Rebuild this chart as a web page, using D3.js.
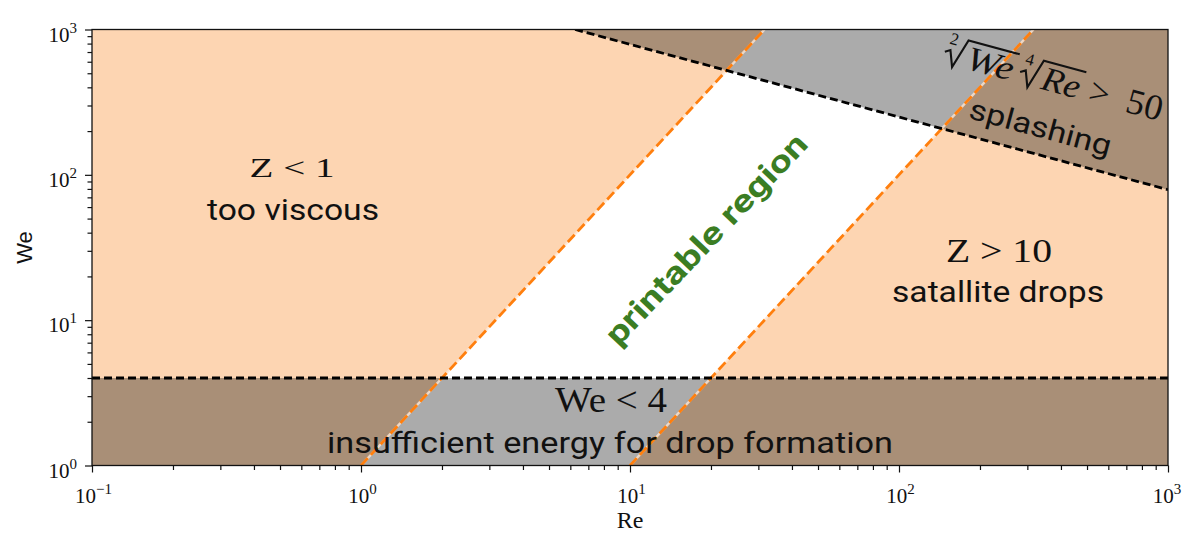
<!DOCTYPE html>
<html><head><meta charset="utf-8">
<script src="https://cdn.jsdelivr.net/npm/d3@7"></script>
<style>body{margin:0;background:#fff}svg{display:block}</style>
</head><body>
<svg id="c" width="1184" height="534"></svg>
<script>
// ---- data ----
const reDomain = [0.1, 1000];
const weDomain = [1, 1000];
const xTickExps = [-1, 0, 1, 2, 3];
const yTickExps = [0, 1, 2, 3];
// boundary lines (Re, We endpoints)
const z1Re = [1, 31.62];      // Z = 1
const z1We = [1, 1000];
const z10Re = [10, 316.2];    // Z = 10
const z10We = [1, 1000];
const splashRe = [6.25, 1000]; // sqrt(We)*Re^(1/4) = 50
const splashWe = [1000, 79];
const weMin = 4;               // We = 4

const peach = "#fdd5b2", shade = "#000", shadeOp = 0.33;
const orange = "#ff7f0e", green = "#3b7d23";

const svg = d3.select("#c");
const L = 92, R = 1168, T = 29.5, B = 465.5;
const x = d3.scaleLog().domain(reDomain).range([L, R]);
const y = d3.scaleLog().domain(weDomain).range([B, T]);
const line = d3.line().x(d => x(d[0])).y(d => y(d[1]));
const poly = pts => line(pts) + "Z";

svg.append("clipPath").attr("id", "clip").append("rect")
  .attr("x", L).attr("y", T).attr("width", R - L).attr("height", B - T);
const g = svg.append("g").attr("clip-path", "url(#clip)");

const [x0, x1] = reDomain, [y0, y1] = weDomain;
// Z<1 region
g.append("path").attr("d", poly([[x0, y0], [z1Re[0], z1We[0]], [z1Re[1], z1We[1]], [x0, y1]])).attr("fill", peach);
// Z>10 region
g.append("path").attr("d", poly([[z10Re[0], z10We[0]], [x1, y0], [x1, y1], [z10Re[1], z10We[1]]])).attr("fill", peach);
// We<4 region
g.append("path").attr("d", poly([[x0, y0], [x1, y0], [x1, weMin], [x0, weMin]])).attr("fill", shade).attr("fill-opacity", shadeOp);
// splashing region
g.append("path").attr("d", poly([[splashRe[0], splashWe[0]], [splashRe[1], splashWe[1]], [x1, y1]])).attr("fill", shade).attr("fill-opacity", shadeOp);

// boundary lines
const oDash = "10,4.5";
[[z1Re, z1We], [z10Re, z10We]].forEach(([rr, ww]) => {
  const pts = [[rr[0], ww[0]], [rr[1], ww[1]]];
  g.append("path").attr("d", line(pts)).attr("stroke", "#ffe6d2").attr("stroke-width", 2.4).attr("fill", "none").attr("stroke-opacity", 0.8);
  g.append("path").attr("d", line(pts)).attr("stroke", orange).attr("stroke-width", 2.8).attr("fill", "none").attr("stroke-dasharray", oDash);
});
g.append("path").attr("d", line([[x0, weMin], [x1, weMin]])).attr("stroke", "#000").attr("stroke-width", 2.8).attr("fill", "none").attr("stroke-dasharray", "8,4");
g.append("path").attr("d", line([[splashRe[0], splashWe[0]], [splashRe[1], splashWe[1]]])).attr("stroke", "#000").attr("stroke-width", 2.8).attr("fill", "none").attr("stroke-dasharray", "8,4");

// ---- annotations ----
const SANS = "Roboto, 'Open Sans', sans-serif";
const SERIF = "'Liberation Serif', 'DejaVu Serif', serif";
function txt(s, cx, by, size, fam, len) {
  const t = svg.append("text").attr("x", cx).attr("y", by).attr("text-anchor", "middle")
    .attr("font-family", fam).attr("font-size", size).attr("fill", "#111").text(s);
  if (len) t.attr("textLength", len).attr("lengthAdjust", "spacingAndGlyphs");
  return t;
}
txt("Z < 1", 292, 177, 28, SERIF, 85);
txt("too viscous", 293, 220, 29, SANS, 172);
txt("Z > 10", 999, 262, 33, SERIF, 106);
txt("satallite drops", 998, 302, 29, SANS, 212);
txt("We < 4", 611, 412, 35, SERIF, 112);
txt("insufficient energy for drop formation", 610, 453, 29, SANS, 566);

svg.append("text").attr("transform", "translate(706,239) rotate(-46.5)")
  .attr("text-anchor", "middle").attr("dy", "0.35em")
  .attr("font-family", SANS).attr("font-weight", "bold").attr("font-size", 31)
  .attr("fill", green).attr("textLength", 278).attr("lengthAdjust", "spacingAndGlyphs")
  .text("printable region");

// splashing label (rotated parallel to the splash boundary)
const ang = Math.atan2(y(splashWe[1]) - y(splashWe[0]), x(splashRe[1]) - x(splashRe[0])) * 180 / Math.PI;
svg.append("text").attr("transform", `translate(1038,137) rotate(${ang})`)
  .attr("text-anchor", "middle").attr("font-family", SANS).attr("font-size", 29).attr("fill", "#111")
  .attr("textLength", 146).attr("lengthAdjust", "spacingAndGlyphs").text("splashing");

const fg = svg.append("g").attr("transform", `translate(941,62) rotate(${ang})`);
function radical(idx, body, sx, bw) {
  fg.append("text").attr("x", sx + 3).attr("y", -20).attr("font-family", SERIF).attr("font-size", 17).attr("fill", "#111").text(idx);
  fg.append("text").attr("x", sx + 24).attr("y", 0).attr("font-family", SERIF).attr("font-style", "italic")
    .attr("font-size", 34).attr("fill", "#111").attr("textLength", bw).attr("lengthAdjust", "spacingAndGlyphs").text(body);
  fg.append("path").attr("d", `M${sx + 1},-11 L${sx + 6},-14 L${sx + 12},2 L${sx + 21},-28 H${sx + 26 + bw}`)
    .attr("fill", "none").attr("stroke", "#111").attr("stroke-width", 2.1);
}
radical("2", "We", 0, 48);
radical("4", "Re", 78, 39);
fg.append("text").attr("x", 151).attr("y", 0).attr("font-family", SERIF).attr("font-size", 36).attr("fill", "#111")
  .attr("textLength", 75).attr("lengthAdjust", "spacingAndGlyphs").attr("xml:space", "preserve").text(">  50");

// ---- frame and axes ----
svg.append("rect").attr("x", L).attr("y", T).attr("width", R - L).attr("height", B - T)
  .attr("fill", "none").attr("stroke", "#111").attr("stroke-width", 1.3);

const minorX = [], minorY = [];
for (let e = -1; e < 3; e++) for (let k = 2; k < 10; k++) minorX.push(k * Math.pow(10, e));
for (let e = 0; e < 3; e++) for (let k = 2; k < 10; k++) minorY.push(k * Math.pow(10, e));

const ax = svg.append("g").attr("transform", `translate(0,${B})`);
ax.call(d3.axisBottom(x).tickValues(minorX).tickSize(4.5).tickFormat(""));
ax.call(g2 => g2.append("g").call(d3.axisBottom(x).tickValues(xTickExps.map(e => Math.pow(10, e))).tickSize(7).tickFormat("")));
ax.selectAll(".domain").remove();
ax.selectAll("line").attr("stroke", "#111").attr("stroke-width", 1.2);

const ay = svg.append("g").attr("transform", `translate(${L},0)`);
ay.call(d3.axisLeft(y).tickValues(minorY).tickSize(4.5).tickFormat(""));
ay.call(g2 => g2.append("g").call(d3.axisLeft(y).tickValues(yTickExps.map(e => Math.pow(10, e))).tickSize(7).tickFormat("")));
ay.selectAll(".domain").remove();
ay.selectAll("line").attr("stroke", "#111").attr("stroke-width", 1.2);

function powLabel(px, py, e, anchor) {
  const t = svg.append("text").attr("x", px).attr("y", py).attr("text-anchor", anchor)
    .attr("font-family", SERIF).attr("font-size", 21).attr("fill", "#111");
  t.append("tspan").text("10");
  t.append("tspan").attr("font-size", 15).attr("dy", -9).text(String(e).replace("-", "\u2212"));
}
xTickExps.forEach(e => powLabel(Math.min(x(Math.pow(10, e)) + 1.5, 1167), 503, e, "middle"));
yTickExps.forEach(e => powLabel(77, y(Math.pow(10, e)) + 12, e, "end"));

svg.append("text").attr("x", (L + R) / 2).attr("y", 528).attr("text-anchor", "middle")
  .attr("font-family", SERIF).attr("font-size", 24).attr("fill", "#111").text("Re");
svg.append("text").attr("transform", `translate(32,${(T + B) / 2}) rotate(-90)`).attr("text-anchor", "middle")
  .attr("font-family", "'Liberation Sans', 'DejaVu Sans', sans-serif").attr("font-size", 22).attr("fill", "#111").text("We");
</script>
</body></html>
